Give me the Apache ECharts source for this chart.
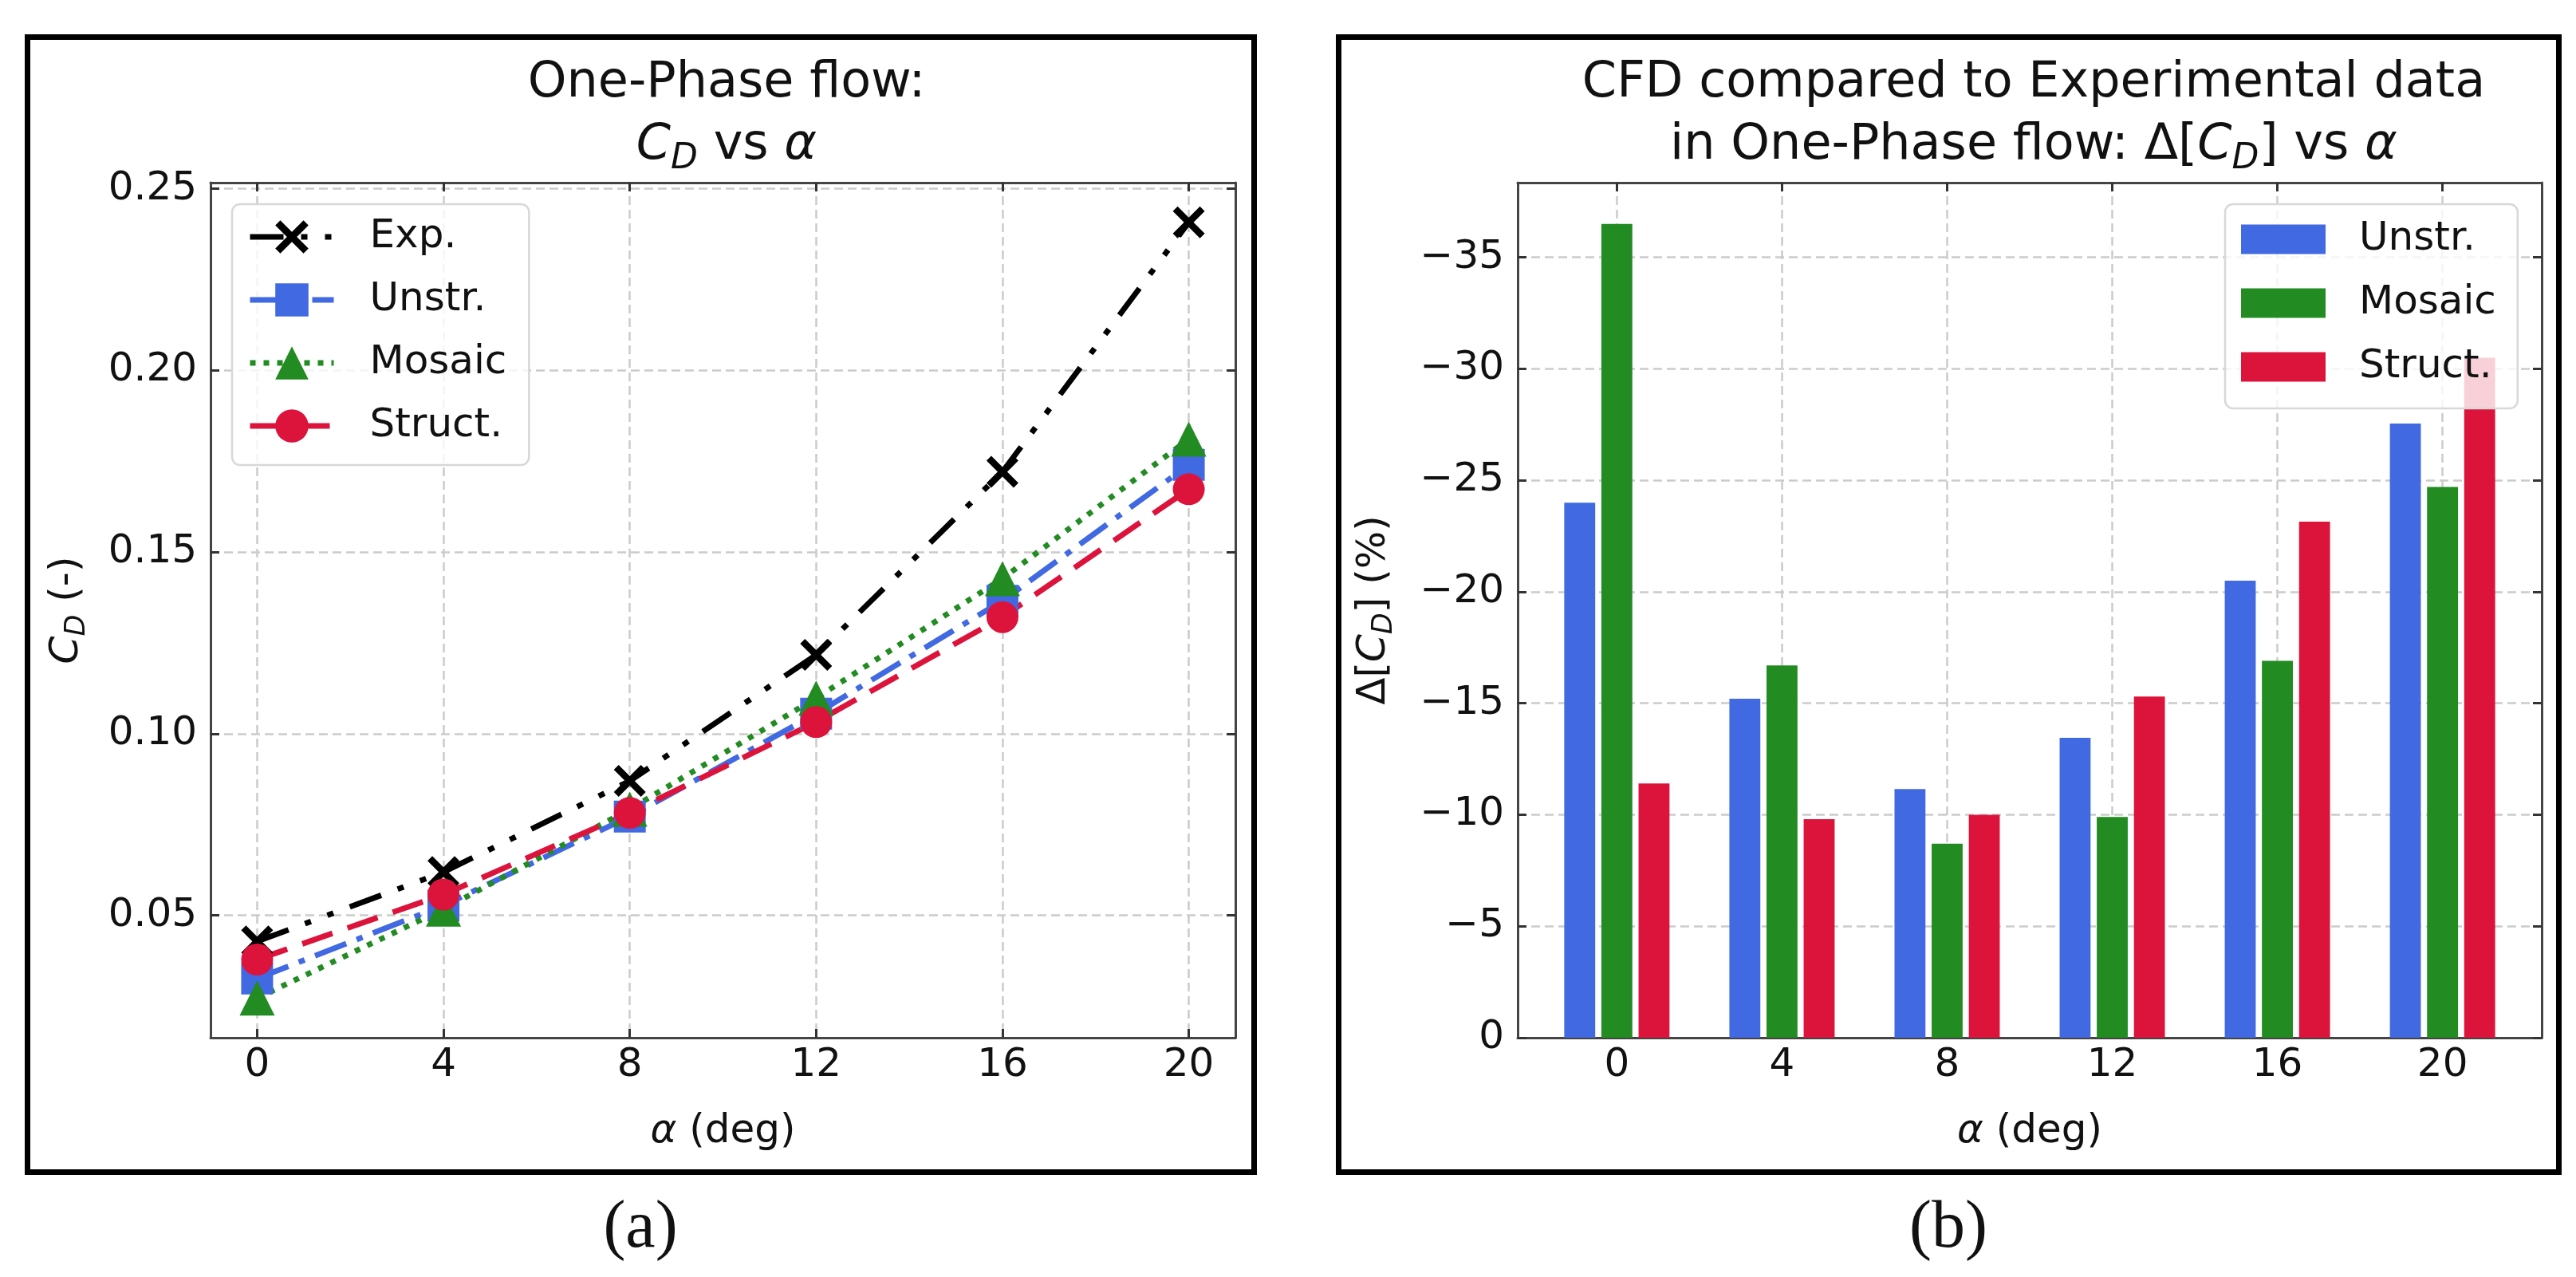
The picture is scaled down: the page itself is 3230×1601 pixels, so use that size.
<!DOCTYPE html>
<html><head><meta charset="utf-8">
<script src="https://cdn.jsdelivr.net/npm/echarts@6/dist/echarts.min.js"></script>
<style>html,body{margin:0;padding:0;background:#fff}#c{width:3230px;height:1601px}</style>
</head><body><div id="c"></div>
<script>
// ---- data ----
const alphaDeg = [0, 4, 8, 12, 16, 20];
const cdExp    = [0.0428, 0.0619, 0.0870, 0.1217, 0.1721, 0.2408];
const cdUnstr  = [0.0326, 0.0527, 0.0772, 0.1055, 0.1366, 0.1740];
const cdMosaic = [0.0272, 0.0517, 0.0792, 0.1098, 0.1427, 0.1811];
const cdStruct = [0.0378, 0.0557, 0.0782, 0.1032, 0.1321, 0.1673];
const dUnstr   = [-24.0, -15.2, -11.15, -13.45, -20.5, -27.55];
const dMosaic  = [-36.5, -16.7, -8.7, -9.9, -16.9, -24.7];
const dStruct  = [-11.4, -9.8, -10.0, -15.3, -23.15, -30.5];
const xTicks   = [0, 4, 8, 12, 16, 20];
const cdTicks  = [0.05, 0.10, 0.15, 0.20, 0.25];
const dTicks   = [0, -5, -10, -15, -20, -25, -30, -35];
const lineNames = ['Exp.', 'Unstr.', 'Mosaic', 'Struct.'];
const barNames  = ['Unstr.', 'Mosaic', 'Struct.'];

// ---- styling ----
const FONT = 'DejaVu Sans';
const C_BLUE = '#4169E1', C_GREEN = '#228B22', C_RED = '#DC143C';
const G1 = {left: 264, top: 229, width: 1285, height: 1072};
const G2 = {left: 1903, top: 229, width: 1284, height: 1072};
const X1 = [-1, 21], Y1 = [0.0163, 0.2517];
const X2 = [-2.4025, 22.4025], Y2 = [-38.35, 0];
const barW = 0.75 * G2.width / (X2[1] - X2[0]);
const pairs = (xs, ys) => xs.map((x, i) => [x, ys[i]]);

const gridLine = {show: true, lineStyle: {color: '#cbcbcb', width: 2.5, type: [11, 6]}};
const spine = {show: true, onZero: false, lineStyle: {color: '#444', width: 3}};
const tick = (vals) => ({show: true, inside: true, length: 11, customValues: vals, lineStyle: {color: '#333', width: 3}});
const lbl = (vals, extra) => Object.assign({show: true, customValues: vals, fontSize: 50, fontFamily: FONT, color: '#111'}, extra || {});
const richAx = {
  i: {fontStyle: 'italic', fontSize: 50, fontFamily: FONT, color: '#111'},
  s: {fontStyle: 'italic', fontSize: 35, lineHeight: 35, verticalAlign: 'bottom', fontFamily: FONT, color: '#111'}
};
const nameStyle = {fontSize: 50, fontFamily: FONT, color: '#111', lineHeight: 60, rich: richAx};
const richTitle = {
  i: {fontStyle: 'italic', fontSize: 62, lineHeight: 78, fontFamily: FONT, color: '#111'},
  s: {fontStyle: 'italic', fontSize: 44, lineHeight: 44, verticalAlign: 'bottom', fontFamily: FONT, color: '#111'}
};
const minus = v => v === 0 ? '0' : '\u2212' + Math.abs(v);
const XPATH = 'path://M0,3 L3,0 L10,7 L17,0 L20,3 L13,10 L20,17 L17,20 L10,13 L3,20 L0,17 L7,10 Z';

function frameAxis(pos, gi, range, vals, inverse) {
  return {type: 'value', gridIndex: gi, position: pos, min: range[0], max: range[1], inverse: !!inverse,
    axisLine: spine, axisTick: tick(vals), axisLabel: {show: false}, splitLine: {show: false}};
}

const option = {
  animation: false,
  backgroundColor: '#fff',
  title: [
    {left: 906, top: 61, textAlign: 'center', text: 'One-Phase flow:\n{i|C}{s|D} vs {i|α}',
     textStyle: {fontSize: 62, fontWeight: 'normal', fontFamily: FONT, color: '#111', lineHeight: 78, rich: richTitle}},
    {left: 2545, top: 61, textAlign: 'center', text: 'CFD compared to Experimental data\nin One-Phase flow: Δ[{i|C}{s|D}] vs {i|α}',
     textStyle: {fontSize: 62, fontWeight: 'normal', fontFamily: FONT, color: '#111', lineHeight: 78, rich: richTitle}}
  ],
  grid: [
    Object.assign({containLabel: false}, G1),
    Object.assign({containLabel: false}, G2)
  ],
  xAxis: [
    {type: 'value', gridIndex: 0, position: 'bottom', min: X1[0], max: X1[1],
     axisLine: spine, axisTick: tick(xTicks), axisLabel: lbl(xTicks, {margin: 10}), splitLine: gridLine,
     name: '{i|α} (deg)', nameLocation: 'middle', nameGap: 88, nameTextStyle: nameStyle},
    frameAxis('top', 0, X1, xTicks),
    {type: 'value', gridIndex: 1, position: 'bottom', min: X2[0], max: X2[1],
     axisLine: spine, axisTick: tick(xTicks), axisLabel: lbl(xTicks, {margin: 10}), splitLine: gridLine,
     name: '{i|α} (deg)', nameLocation: 'middle', nameGap: 88, nameTextStyle: nameStyle},
    frameAxis('top', 1, X2, xTicks)
  ],
  yAxis: [
    {type: 'value', gridIndex: 0, position: 'left', min: Y1[0], max: Y1[1],
     axisLine: spine, axisTick: tick(cdTicks), axisLabel: lbl(cdTicks, {margin: 17, formatter: v => v.toFixed(2)}),
     splitLine: gridLine,
     name: '{i|C}{s|D} (-)', nameLocation: 'middle', nameGap: 150, nameRotate: 90, nameTextStyle: nameStyle},
    frameAxis('right', 0, Y1, cdTicks),
    {type: 'value', gridIndex: 1, position: 'left', min: Y2[0], max: Y2[1], inverse: true,
     axisLine: spine, axisTick: tick(dTicks), axisLabel: lbl(dTicks, {margin: 17, formatter: minus}),
     splitLine: gridLine,
     name: 'Δ[{i|C}{s|D}] (%)', nameLocation: 'middle', nameGap: 150, nameRotate: 90, nameTextStyle: nameStyle},
    frameAxis('right', 1, Y2, dTicks, true)
  ],
  legend: [
    {orient: 'vertical', left: 291, top: 256, padding: [16, 28, 24, 19], itemWidth: 105, itemHeight: 52, itemGap: 29,
     data: lineNames, backgroundColor: 'rgba(255,255,255,0.8)', borderColor: '#d8d8d8', borderWidth: 2.5, borderRadius: 10,
     lineStyle: {width: 7},
     textStyle: {fontSize: 50, fontFamily: FONT, color: '#111', padding: [0, 0, 0, 40]}},
    {orient: 'vertical', left: 2790, top: 256, padding: [19, 27, 27, 20], itemWidth: 106, itemHeight: 37, itemGap: 30,
     icon: 'rect', data: barNames.map(n => 'Δ' + n), formatter: n => n.slice(1), z: 10,
     backgroundColor: 'rgba(255,255,255,0.8)', borderColor: '#d8d8d8', borderWidth: 2.5, borderRadius: 10,
     textStyle: {fontSize: 50, fontFamily: FONT, color: '#111', padding: [0, 0, 0, 37]}}
  ],
  series: [
    {name: lineNames[0], type: 'line', xAxisIndex: 0, yAxisIndex: 0, data: pairs(alphaDeg, cdExp),
     symbol: XPATH, symbolSize: 40, itemStyle: {color: '#000'},
     lineStyle: {color: '#000', width: 7, type: [42, 22, 8, 22, 8, 22]}},
    {name: lineNames[1], type: 'line', xAxisIndex: 0, yAxisIndex: 0, data: pairs(alphaDeg, cdUnstr),
     symbol: 'rect', symbolSize: 40, itemStyle: {color: C_BLUE},
     lineStyle: {color: C_BLUE, width: 7, type: [42, 14, 8, 14]}},
    {name: lineNames[2], type: 'line', xAxisIndex: 0, yAxisIndex: 0, data: pairs(alphaDeg, cdMosaic),
     symbol: 'triangle', symbolSize: 44, itemStyle: {color: C_GREEN},
     lineStyle: {color: C_GREEN, width: 7, type: [7, 10]}},
    {name: lineNames[3], type: 'line', xAxisIndex: 0, yAxisIndex: 0, data: pairs(alphaDeg, cdStruct),
     symbol: 'circle', symbolSize: 40, itemStyle: {color: C_RED},
     lineStyle: {color: C_RED, width: 7, type: [40, 20]}},
    {name: 'Δ' + barNames[0], type: 'bar', xAxisIndex: 2, yAxisIndex: 2, data: pairs(alphaDeg, dUnstr),
     barWidth: barW, barGap: '20%', itemStyle: {color: C_BLUE}},
    {name: 'Δ' + barNames[1], type: 'bar', xAxisIndex: 2, yAxisIndex: 2, data: pairs(alphaDeg, dMosaic),
     barWidth: barW, barGap: '20%', itemStyle: {color: C_GREEN}},
    {name: 'Δ' + barNames[2], type: 'bar', xAxisIndex: 2, yAxisIndex: 2, data: pairs(alphaDeg, dStruct),
     barWidth: barW, barGap: '20%', itemStyle: {color: C_RED}}
  ],
  graphic: [
    {type: 'rect', silent: true, z: 100, shape: {x: 34.5, y: 46.5, width: 1538, height: 1423},
     style: {fill: 'none', stroke: '#000', lineWidth: 7}},
    {type: 'rect', silent: true, z: 100, shape: {x: 1678.5, y: 46.5, width: 1530, height: 1423},
     style: {fill: 'none', stroke: '#000', lineWidth: 7}},
    {type: 'text', silent: true, x: 803, y: 1541,
     style: {text: '(a)', fontSize: 84, fontFamily: 'Liberation Serif', fill: '#111', align: 'center', verticalAlign: 'middle'}},
    {type: 'text', silent: true, x: 2443, y: 1541,
     style: {text: '(b)', fontSize: 84, fontFamily: 'Liberation Serif', fill: '#111', align: 'center', verticalAlign: 'middle'}}
  ]
};

const chart = echarts.init(document.getElementById('c'));
chart.setOption(option);
</script>
</body></html>
